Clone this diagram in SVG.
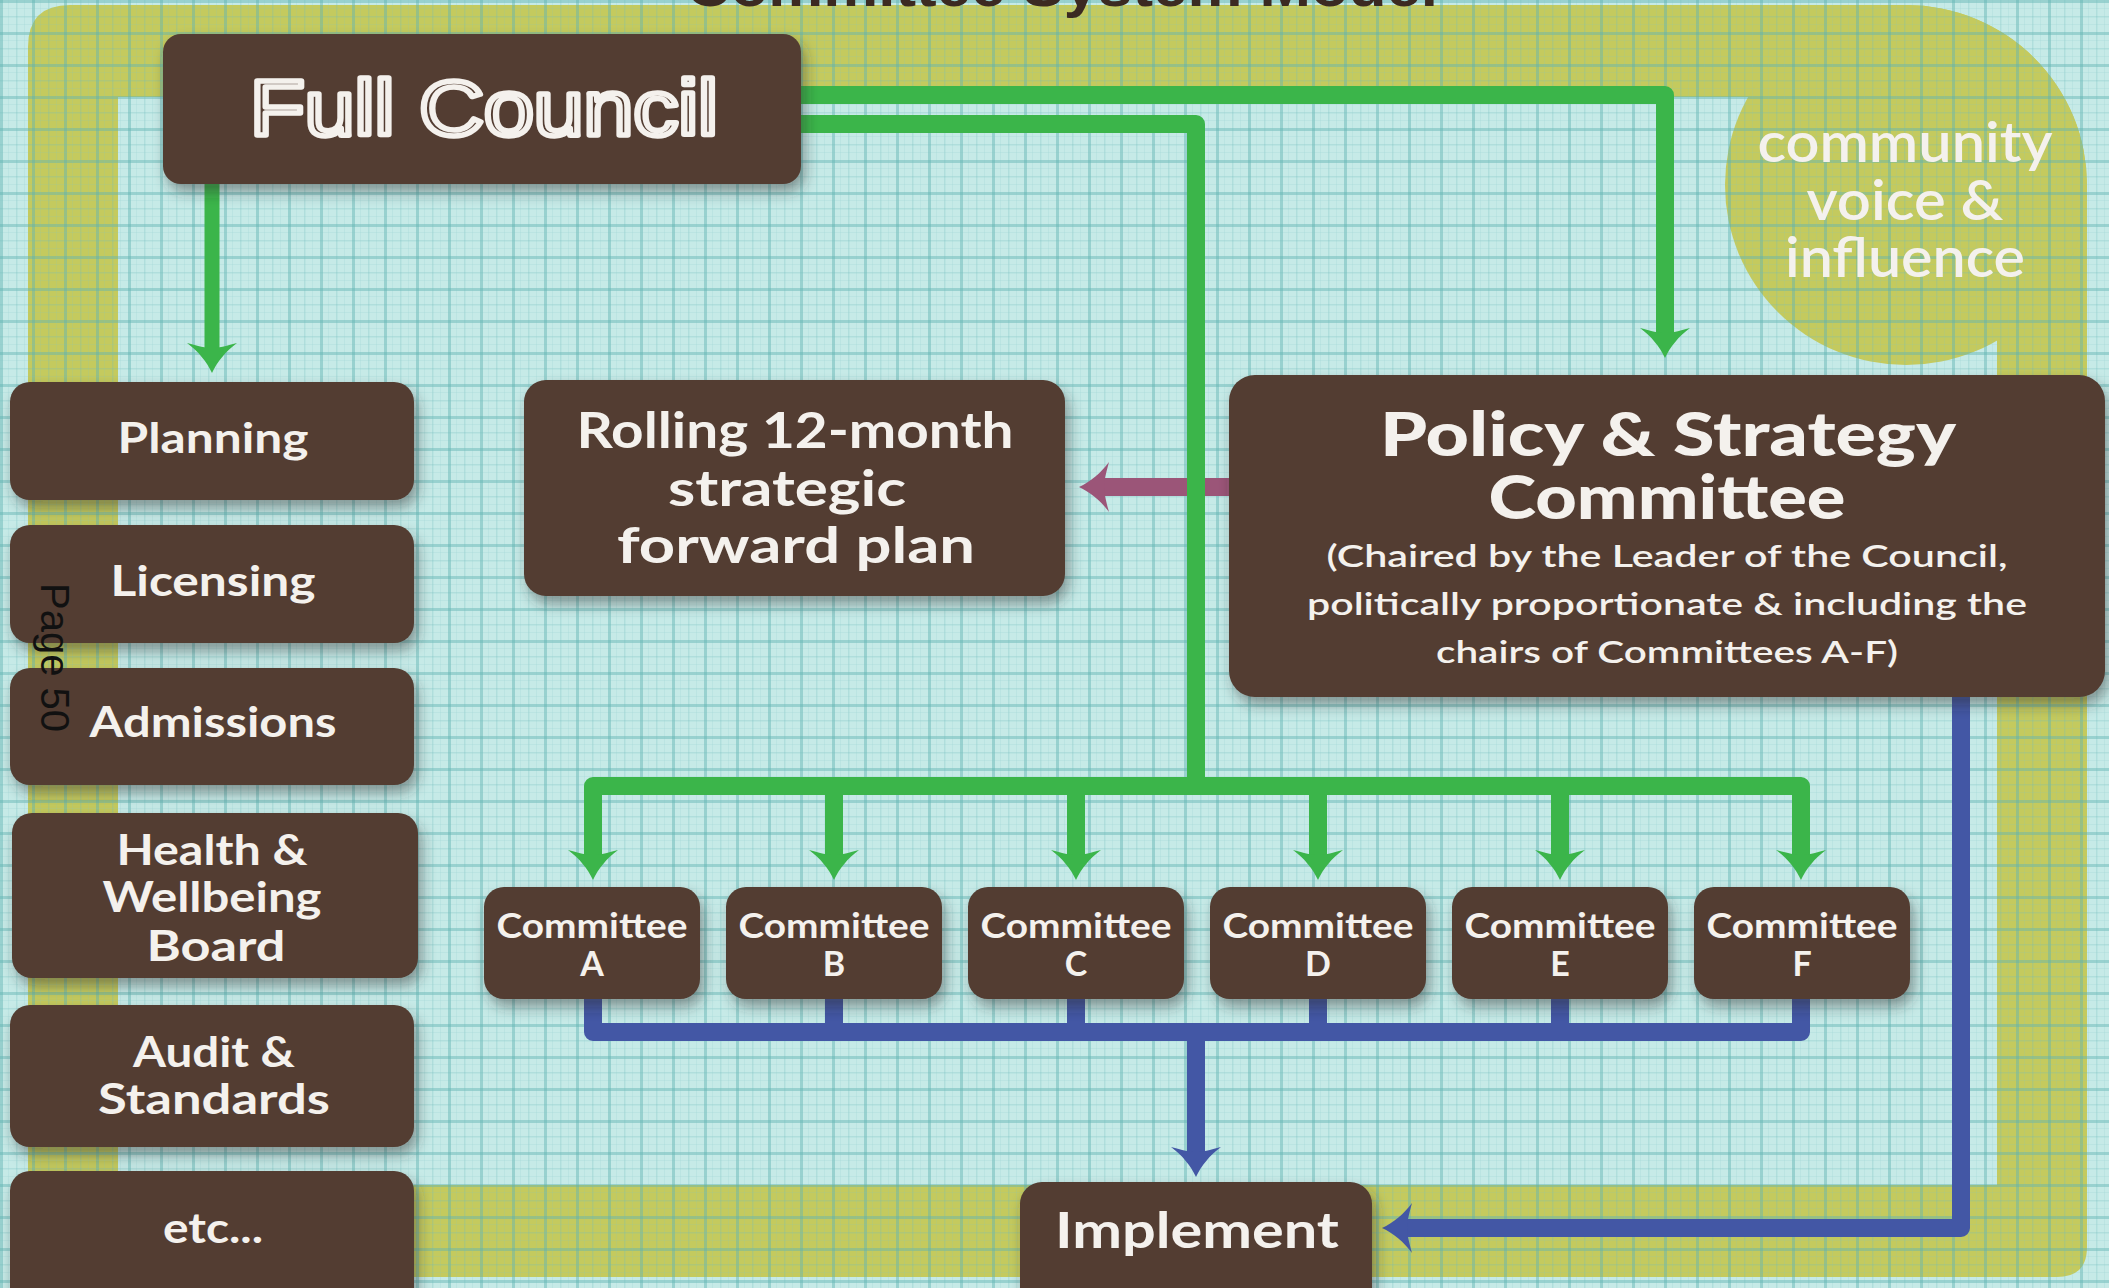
<svg xmlns="http://www.w3.org/2000/svg" width="2109" height="1288" viewBox="0 0 2109 1288">
<defs>
<pattern id="grid" width="32" height="32" patternUnits="userSpaceOnUse">
<rect x="0" y="0" width="3" height="32" fill="#5fb5b2" opacity="0.45"/>
<rect x="0" y="0" width="32" height="3" fill="#5fb5b2" opacity="0.45"/>
<rect x="16" y="0" width="1.5" height="32" fill="#6fbdba" opacity="0.25"/>
<rect x="0" y="16" width="32" height="1.5" fill="#6fbdba" opacity="0.25"/>
<rect x="8" y="0" width="1" height="32" fill="#7cc4c1" opacity="0.15"/>
<rect x="24" y="0" width="1" height="32" fill="#7cc4c1" opacity="0.15"/>
<rect x="0" y="8" width="32" height="1" fill="#7cc4c1" opacity="0.15"/>
<rect x="0" y="24" width="32" height="1" fill="#7cc4c1" opacity="0.15"/>
</pattern>
<filter id="sh" x="-10%" y="-10%" width="125%" height="135%">
<feDropShadow dx="4" dy="8" stdDeviation="7" flood-color="#2a2a2a" flood-opacity="0.45"/>
</filter>
<marker id="ag" markerUnits="userSpaceOnUse" viewBox="-2 -27 34 54" markerWidth="34" markerHeight="54" refX="6" refY="0" orient="auto" overflow="visible">
<path d="M30,0 C19,-5 8,-14 0,-25 C3,-14 5,-6 5,0 C5,6 3,14 0,25 C8,14 19,5 30,0 Z" fill="#3bb54a"/>
</marker>
<marker id="ab" markerUnits="userSpaceOnUse" viewBox="-2 -27 34 54" markerWidth="34" markerHeight="54" refX="6" refY="0" orient="auto" overflow="visible">
<path d="M30,0 C19,-5 8,-14 0,-25 C3,-14 5,-6 5,0 C5,6 3,14 0,25 C8,14 19,5 30,0 Z" fill="#4357a5"/>
</marker>
<marker id="am" markerUnits="userSpaceOnUse" viewBox="-2 -27 34 54" markerWidth="34" markerHeight="54" refX="6" refY="0" orient="auto" overflow="visible">
<path d="M30,0 C19,-5 8,-14 0,-25 C3,-14 5,-6 5,0 C5,6 3,14 0,25 C8,14 19,5 30,0 Z" fill="#9b5578"/>
</marker>
</defs>
<style>
.box{fill:#523c31;filter:url(#sh)}
.t{fill:#f4f1ed;font-family:Lato,"Open Sans","Liberation Sans",sans-serif;font-weight:700;text-anchor:middle}
.lbl{font-size:42px}
.g{fill:none;stroke:#3bb54a;stroke-width:18;stroke-linejoin:round}
.b{fill:none;stroke:#4357a5;stroke-width:18;stroke-linejoin:round}
.m{fill:none;stroke:#9b5578;stroke-width:18}
</style>

<!-- background -->
<rect x="0" y="0" width="2109" height="1288" fill="#c6eae7"/>
<path d="M70,5 H1906 A181 180 0 0 1 2087,185 V1247 Q2087,1277 2057,1277 H58 Q28,1277 28,1247 V47 Q28,5 70,5 Z M118,97 V1185 H1997 V97 Z" fill="#c4ca5e" fill-rule="evenodd"/>
<ellipse cx="1906" cy="185" rx="181" ry="180" fill="#c4ca5e"/>
<rect x="0" y="0" width="2109" height="1288" fill="url(#grid)"/>
<text x="686" y="6" font-family="'Liberation Sans',Arial,sans-serif" font-weight="700" font-size="58" fill="#3b2a22" textLength="752" lengthAdjust="spacingAndGlyphs">Committee System Model</text>

<!-- community voice -->
<g id="community" class="t" style="font-weight:600;font-size:56px">
<text x="1905" y="162" textLength="295" lengthAdjust="spacingAndGlyphs">community</text>
<text x="1905" y="220" textLength="197" lengthAdjust="spacingAndGlyphs">voice &amp;</text>
<text x="1905" y="277" textLength="240" lengthAdjust="spacingAndGlyphs">influence</text>
</g>

<!-- connectors -->
<g id="connectors">
<path class="g" d="M790,95 H1665 V334" marker-end="url(#ag)"/>
<path class="g" d="M790,124 H1196 V786"/>
<path class="g" d="M593,856 V786 H1801 V856"/>
<path class="g" d="M593,786 V856" marker-end="url(#ag)"/>
<path class="g" d="M834,786 V856" marker-end="url(#ag)"/>
<path class="g" d="M1076,786 V856" marker-end="url(#ag)"/>
<path class="g" d="M1318,786 V856" marker-end="url(#ag)"/>
<path class="g" d="M1560,786 V856" marker-end="url(#ag)"/>
<path class="g" d="M1801,786 V856" marker-end="url(#ag)"/>
<path class="g" style="stroke-width:15" d="M212,170 V349" marker-end="url(#ag)"/>
<path class="m" d="M1240,487 H1103" marker-end="url(#am)"/>
<path class="g" d="M1196,440 V540"/>
<path class="b" d="M593,990 V1032 H1801 V990"/>
<path class="b" d="M834,990 V1032"/>
<path class="b" d="M1076,990 V1032"/>
<path class="b" d="M1318,990 V1032"/>
<path class="b" d="M1560,990 V1032"/>
<path class="b" d="M1196,1032 V1153" marker-end="url(#ab)"/>
<path class="b" d="M1961,690 V1228 H1406" marker-end="url(#ab)"/>
</g>

<!-- nodes -->
<g id="full-council">
<rect class="box" x="163" y="34" width="638" height="150" rx="18"/>
<text x="484" y="135" font-family="'Liberation Sans',Arial,sans-serif" font-size="78" text-anchor="middle" fill="#523c31" stroke="#f4f1ed" stroke-width="5.5" stroke-linejoin="round" textLength="468" lengthAdjust="spacingAndGlyphs">Full Council</text>
</g>
<g id="planning">
<rect class="box" x="10" y="382" width="404" height="118" rx="20"/>
<text class="t lbl" x="213" y="453" textLength="191" lengthAdjust="spacingAndGlyphs">Planning</text>
</g>
<g id="licensing">
<rect class="box" x="10" y="525" width="404" height="118" rx="20"/>
<text class="t lbl" x="213" y="596" textLength="205" lengthAdjust="spacingAndGlyphs">Licensing</text>
</g>
<g id="admissions">
<rect class="box" x="10" y="668" width="404" height="117" rx="20"/>
<text class="t lbl" x="213" y="737" textLength="247" lengthAdjust="spacingAndGlyphs">Admissions</text>
</g>
<g id="health-wellbeing">
<rect class="box" x="12" y="813" width="406" height="165" rx="20"/>
<text class="t lbl" x="212" y="865" textLength="191" lengthAdjust="spacingAndGlyphs">Health &amp;</text>
<text class="t lbl" x="212" y="912" textLength="219" lengthAdjust="spacingAndGlyphs">Wellbeing</text>
<text class="t lbl" x="216" y="961" textLength="139" lengthAdjust="spacingAndGlyphs">Board</text>
</g>
<g id="audit-standards">
<rect class="box" x="10" y="1005" width="404" height="142" rx="20"/>
<text class="t lbl" x="214" y="1067" textLength="162" lengthAdjust="spacingAndGlyphs">Audit &amp;</text>
<text class="t lbl" x="214" y="1114" textLength="232" lengthAdjust="spacingAndGlyphs">Standards</text>
</g>
<g id="etc">
<rect class="box" x="10" y="1171" width="404" height="150" rx="20"/>
<text class="t lbl" x="213" y="1243" textLength="100" lengthAdjust="spacingAndGlyphs">etc...</text>
</g>
<g id="rolling-plan">
<rect class="box" x="524" y="380" width="541" height="216" rx="22"/>
<text class="t" style="font-size:50px" x="795" y="448" textLength="437" lengthAdjust="spacingAndGlyphs">Rolling 12-month</text>
<text class="t" style="font-size:50px" x="787" y="506" textLength="238" lengthAdjust="spacingAndGlyphs">strategic</text>
<text class="t" style="font-size:50px" x="796" y="563" textLength="358" lengthAdjust="spacingAndGlyphs">forward plan</text>
</g>
<g id="policy-strategy">
<rect class="box" x="1229" y="375" width="876" height="322" rx="26"/>
<text class="t" style="font-size:60px;font-weight:900" x="1668" y="456" textLength="576" lengthAdjust="spacingAndGlyphs">Policy &amp; Strategy</text>
<text class="t" style="font-size:60px;font-weight:900" x="1667" y="519" textLength="357" lengthAdjust="spacingAndGlyphs">Committee</text>
<text class="t" style="font-size:30px;font-weight:600" x="1667" y="567" textLength="681" lengthAdjust="spacingAndGlyphs">(Chaired by the Leader of the Council,</text>
<text class="t" style="font-size:30px;font-weight:600" x="1667" y="615" textLength="720" lengthAdjust="spacingAndGlyphs">politically proportionate &amp; including the</text>
<text class="t" style="font-size:30px;font-weight:600" x="1667" y="663" textLength="462" lengthAdjust="spacingAndGlyphs">chairs of Committees A-F)</text>
</g>
<g id="committee-a">
<rect class="box" x="484" y="887" width="216" height="112" rx="20"/>
<text class="t" style="font-size:34px" x="592" y="938" textLength="191" lengthAdjust="spacingAndGlyphs">Committee</text>
<text class="t" style="font-size:34px" x="592" y="976">A</text>
</g>
<g id="committee-b">
<rect class="box" x="726" y="887" width="216" height="112" rx="20"/>
<text class="t" style="font-size:34px" x="834" y="938" textLength="191" lengthAdjust="spacingAndGlyphs">Committee</text>
<text class="t" style="font-size:34px" x="834" y="976">B</text>
</g>
<g id="committee-c">
<rect class="box" x="968" y="887" width="216" height="112" rx="20"/>
<text class="t" style="font-size:34px" x="1076" y="938" textLength="191" lengthAdjust="spacingAndGlyphs">Committee</text>
<text class="t" style="font-size:34px" x="1076" y="976">C</text>
</g>
<g id="committee-d">
<rect class="box" x="1210" y="887" width="216" height="112" rx="20"/>
<text class="t" style="font-size:34px" x="1318" y="938" textLength="191" lengthAdjust="spacingAndGlyphs">Committee</text>
<text class="t" style="font-size:34px" x="1318" y="976">D</text>
</g>
<g id="committee-e">
<rect class="box" x="1452" y="887" width="216" height="112" rx="20"/>
<text class="t" style="font-size:34px" x="1560" y="938" textLength="191" lengthAdjust="spacingAndGlyphs">Committee</text>
<text class="t" style="font-size:34px" x="1560" y="976">E</text>
</g>
<g id="committee-f">
<rect class="box" x="1694" y="887" width="216" height="112" rx="20"/>
<text class="t" style="font-size:34px" x="1802" y="938" textLength="191" lengthAdjust="spacingAndGlyphs">Committee</text>
<text class="t" style="font-size:34px" x="1802" y="976">F</text>
</g>
<g id="implement">
<rect class="box" x="1020" y="1182" width="352" height="130" rx="22"/>
<text class="t" style="font-size:50px" x="1197" y="1248" textLength="284" lengthAdjust="spacingAndGlyphs">Implement</text>
</g>
<text transform="translate(41,583) rotate(90)" font-family="'Liberation Sans',Arial,sans-serif" font-size="40" fill="#111111">Page 50</text>
</svg>
